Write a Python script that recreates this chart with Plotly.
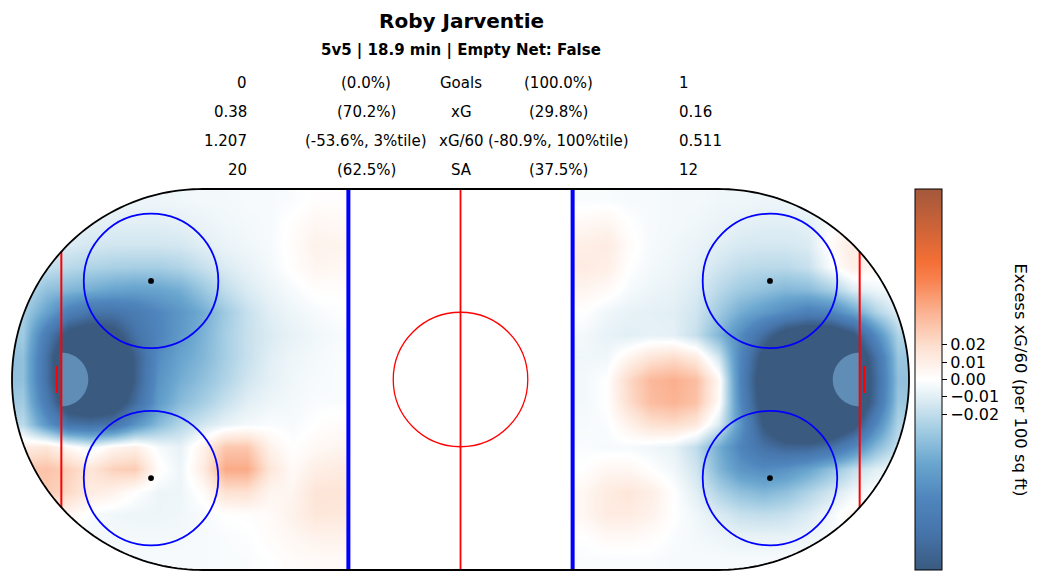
import numpy as np
import plotly.graph_objects as go

# ---------------- data ----------------
player_name = "Roby Jarventie"
subtitle = "5v5 | 18.9 min | Empty Net: False"
stat_labels = ["Goals", "xG", "xG/60", "SA"]
left_values = ["0", "0.38", "1.207", "20"]
left_shares = ["(0.0%)", "(70.2%)", "(-53.6%, 3%tile)", "(62.5%)"]
right_shares = ["(100.0%)", "(29.8%)", "(-80.9%, 100%tile)", "(37.5%)"]
right_values = ["1", "0.16", "0.511", "12"]

# cell centres (ft) of the two zone grids
grid_y = [2.5, 7.5, 12.5, 17.5, 22.5, 27.5, 32.5, 37.5, 42.5,
          47.5, 52.5, 57.5, 62.5, 67.5, 72.5, 77.5, 82.5]
left_zone_x = [2.5, 7.5, 12.5, 17.5, 22.5, 27.5, 32.5, 37.5,
               42.5, 47.5, 52.5, 57.5, 62.5, 67.5, 72.5]
right_zone_x = [127.5, 132.5, 137.5, 142.5, 147.5, 152.5, 157.5, 162.5,
                167.5, 172.5, 177.5, 182.5, 187.5, 192.5, 197.5]

# excess xG/60 (per 100 sq ft), rows top -> bottom
left_zone_z = [
    [-0.003, -0.004, -0.005, -0.006, -0.006, -0.006, -0.006, -0.005, -0.004, -0.004, -0.003, -0.003, -0.002, 0.001, 0.001],
    [-0.005, -0.006, -0.008, -0.009, -0.010, -0.010, -0.010, -0.009, -0.007, -0.005, -0.004, -0.003, 0.001, 0.005, 0.004],
    [-0.008, -0.010, -0.012, -0.014, -0.015, -0.015, -0.015, -0.014, -0.010, -0.007, -0.005, -0.003, 0.002, 0.008, 0.007],
    [-0.012, -0.018, -0.022, -0.025, -0.027, -0.028, -0.028, -0.025, -0.018, -0.012, -0.008, -0.004, 0.001, 0.006, 0.005],
    [-0.020, -0.035, -0.040, -0.045, -0.050, -0.052, -0.050, -0.045, -0.032, -0.020, -0.012, -0.007, -0.003, 0.001, 0.001],
    [-0.028, -0.050, -0.075, -0.088, -0.088, -0.080, -0.068, -0.058, -0.045, -0.030, -0.018, -0.010, -0.006, -0.003, -0.001],
    [-0.030, -0.080, -0.120, -0.130, -0.120, -0.090, -0.070, -0.056, -0.042, -0.028, -0.018, -0.012, -0.008, -0.005, -0.003],
    [-0.035, -0.090, -0.150, -0.160, -0.150, -0.105, -0.065, -0.050, -0.040, -0.028, -0.018, -0.010, -0.006, -0.004, -0.002],
    [-0.035, -0.090, -0.150, -0.160, -0.150, -0.105, -0.060, -0.045, -0.035, -0.025, -0.015, -0.009, -0.005, -0.003, -0.002],
    [-0.030, -0.080, -0.130, -0.140, -0.130, -0.095, -0.055, -0.038, -0.028, -0.018, -0.010, -0.006, -0.004, -0.002, -0.002],
    [-0.022, -0.058, -0.088, -0.092, -0.088, -0.060, -0.038, -0.024, -0.015, -0.008, -0.004, -0.002, -0.003, 0.000, 0.002],
    [0.012, 0.015, 0.004, -0.006, 0.006, 0.010, -0.003, -0.008, 0.008, 0.030, 0.030, 0.008, 0.000, 0.004, 0.006],
    [0.030, 0.032, 0.026, 0.016, 0.026, 0.028, 0.002, -0.006, 0.012, 0.042, 0.042, 0.015, 0.003, 0.010, 0.012],
    [0.025, 0.028, 0.022, 0.012, 0.008, 0.000, -0.006, -0.006, 0.002, 0.018, 0.018, 0.006, 0.006, 0.016, 0.016],
    [0.006, 0.010, 0.006, -0.002, -0.005, -0.006, -0.006, -0.005, -0.003, 0.000, 0.001, 0.003, 0.008, 0.015, 0.014],
    [-0.003, -0.003, -0.004, -0.004, -0.004, -0.004, -0.004, -0.004, -0.003, -0.002, -0.001, 0.002, 0.005, 0.008, 0.008],
    [-0.002, -0.003, -0.003, -0.003, -0.003, -0.003, -0.003, -0.003, -0.003, -0.002, -0.002, 0.000, 0.002, 0.003, 0.003],
]

right_zone_z = [
    [-0.002, -0.002, -0.003, -0.003, -0.004, -0.004, -0.005, -0.005, -0.006, -0.006, -0.005, -0.003, 0.000, 0.000, -0.002],
    [0.004, 0.006, 0.000, -0.003, -0.004, -0.005, -0.007, -0.009, -0.010, -0.010, -0.009, -0.002, 0.006, 0.004, -0.002],
    [0.010, 0.012, 0.002, -0.003, -0.005, -0.007, -0.010, -0.013, -0.014, -0.014, -0.012, 0.002, 0.012, 0.008, 0.000],
    [0.012, 0.010, 0.000, -0.004, -0.006, -0.009, -0.015, -0.020, -0.022, -0.022, -0.018, -0.002, 0.010, 0.005, -0.002],
    [0.006, 0.003, -0.003, -0.006, -0.008, -0.012, -0.022, -0.030, -0.035, -0.040, -0.038, -0.028, -0.012, -0.006, -0.003],
    [0.000, -0.005, -0.008, -0.009, -0.010, -0.015, -0.030, -0.045, -0.055, -0.065, -0.075, -0.070, -0.050, -0.025, -0.010],
    [-0.004, -0.008, -0.010, -0.008, -0.009, -0.018, -0.040, -0.065, -0.095, -0.125, -0.135, -0.135, -0.115, -0.065, -0.025],
    [-0.005, -0.005, 0.006, 0.016, 0.020, 0.012, -0.015, -0.070, -0.120, -0.155, -0.165, -0.165, -0.145, -0.090, -0.032],
    [-0.004, 0.000, 0.022, 0.036, 0.040, 0.034, 0.004, -0.072, -0.130, -0.165, -0.175, -0.175, -0.155, -0.095, -0.035],
    [-0.004, 0.000, 0.020, 0.034, 0.038, 0.032, 0.002, -0.068, -0.125, -0.160, -0.170, -0.170, -0.150, -0.092, -0.032],
    [-0.003, -0.002, 0.008, 0.018, 0.020, 0.014, -0.012, -0.060, -0.112, -0.145, -0.155, -0.145, -0.120, -0.068, -0.025],
    [-0.002, -0.003, -0.003, -0.005, -0.008, -0.020, -0.045, -0.070, -0.090, -0.100, -0.100, -0.090, -0.068, -0.038, -0.018],
    [0.000, 0.005, 0.005, 0.000, -0.005, -0.015, -0.040, -0.058, -0.065, -0.060, -0.050, -0.035, -0.020, -0.010, -0.003],
    [0.005, 0.012, 0.015, 0.010, 0.000, -0.010, -0.025, -0.035, -0.040, -0.035, -0.025, -0.015, -0.005, 0.000, 0.000],
    [0.005, 0.012, 0.012, 0.008, 0.000, -0.005, -0.012, -0.018, -0.020, -0.018, -0.012, -0.004, 0.005, 0.003, 0.000],
    [0.000, 0.004, 0.004, 0.002, -0.002, -0.004, -0.006, -0.008, -0.008, -0.008, -0.006, -0.003, 0.003, 0.000, 0.000],
    [-0.002, -0.002, -0.002, -0.002, -0.003, -0.003, -0.003, -0.003, -0.003, -0.003, -0.003, -0.002, 0.000, 0.000, 0.000],
]

cbar_tickvals = [-0.02, -0.01, 0.0, 0.01, 0.02]
cbar_ticktext = ["\u22120.02", "\u22120.01", "0.00", "0.01", "0.02"]
z_limit = 0.11
cbar_title = "Excess xG/60 (per 100 sq ft)"

# ---------------- styling / geometry ----------------
W, H = 1041, 582
ML, MR, MT, MB = 8, 128, 185, 8
PPF_X = 4.485
PPF_Y = 4.4826
x_range = [-(12 - ML) / PPF_X, 200 + (W - MR - 909) / PPF_X]
y_range = [85 + (H - MB - 570) / PPF_Y, -(189 - MT) / PPF_Y]

plot_w = W - ML - MR
plot_h = H - MT - MB


def paper_x(px):
    return (px - ML) / plot_w


def paper_y(py):
    return (H - MB - py) / plot_h


colorscale = [
    [0.00, "#3a5a80"],
    [0.10, "#4675ab"],
    [0.19, "#4f86bd"],
    [0.28, "#6aa6cf"],
    [0.37, "#a4cde3"],
    [0.455, "#e2eff5"],
    [0.50, "#ffffff"],
    [0.587, "#fde0d0"],
    [0.675, "#fbb393"],
    [0.76, "#f88250"],
    [0.81, "#f46f35"],
    [0.90, "#cc6338"],
    [1.00, "#a3583c"],
]

fig = go.Figure()
fig.add_trace(go.Heatmap(x=left_zone_x, y=grid_y, z=left_zone_z, coloraxis="coloraxis",
                         zsmooth="best", hoverinfo="skip"))
fig.add_trace(go.Heatmap(x=right_zone_x, y=grid_y, z=right_zone_z, coloraxis="coloraxis",
                         zsmooth="best", hoverinfo="skip"))

R = 42.5
RINK_L, RINK_W = 200.0, 85.0


def pts_to_path(xs, ys, close=True):
    s = "M %.3f,%.3f " % (xs[0], ys[0])
    s += " ".join("L %.3f,%.3f" % (a, b) for a, b in zip(xs[1:], ys[1:]))
    if close:
        s += " Z"
    return s


th = np.linspace(0, np.pi, 120)
lax = R - R * np.sin(th)
lay = R - R * np.cos(th)
rax = RINK_L - lax
ray = lay

shapes = []
mx = np.concatenate([[-4, R], lax, [R, -4]])
my = np.concatenate([[-4, -4], lay, [RINK_W + 4, RINK_W + 4]])
shapes.append(dict(type="path", path=pts_to_path(mx, my), fillcolor="white",
                   line=dict(width=0), layer="above"))
shapes.append(dict(type="path", path=pts_to_path(RINK_L - mx, my), fillcolor="white",
                   line=dict(width=0), layer="above"))

ct = np.linspace(-np.pi / 2, np.pi / 2, 60)
for gx, sgn in [(11.0, 1), (189.0, -1)]:
    cx = gx + sgn * 6 * np.cos(ct)
    cy = 42.5 + 6 * np.sin(ct)
    shapes.append(dict(type="path", path=pts_to_path(cx, cy), fillcolor="#5f8db5",
                       line=dict(width=0), layer="above"))

for bxl in [75.0, 125.0]:
    shapes.append(dict(type="line", x0=bxl, x1=bxl, y0=0, y1=RINK_W,
                       line=dict(color="blue", width=4), layer="above"))
shapes.append(dict(type="line", x0=100, x1=100, y0=0, y1=RINK_W,
                   line=dict(color="red", width=1.8), layer="above"))
shapes.append(dict(type="circle", x0=85, x1=115, y0=27.5, y1=57.5,
                   line=dict(color="red", width=1.3), layer="above"))
for fx in [31.0, 169.0]:
    for fy in [20.5, 64.5]:
        shapes.append(dict(type="circle", x0=fx - 15, x1=fx + 15, y0=fy - 15, y1=fy + 15,
                           line=dict(color="blue", width=1.8), layer="above"))
        shapes.append(dict(type="circle", x0=fx - 0.65, x1=fx + 0.65, y0=fy - 0.65, y1=fy + 0.65,
                           fillcolor="black", line=dict(color="black", width=0), layer="above"))
half = np.sqrt(R ** 2 - (R - 11) ** 2)
for gx, nx in [(11.0, 10.0), (189.0, 190.0)]:
    shapes.append(dict(type="line", x0=gx, x1=gx, y0=42.5 - half, y1=42.5 + half,
                       line=dict(color="red", width=2), layer="above"))
    shapes.append(dict(type="line", x0=nx, x1=nx, y0=39.5, y1=45.5,
                       line=dict(color="red", width=2), layer="above"))

bx = np.concatenate([[R, RINK_L - R], rax, [R], lax[::-1]])
by = np.concatenate([[0, 0], ray, [RINK_W], lay[::-1]])
shapes.append(dict(type="path", path=pts_to_path(bx, by), line=dict(color="black", width=1.8),
                   fillcolor="rgba(0,0,0,0)", layer="above"))

annotations = []
FONT = "DejaVu Sans"
annotations.append(dict(text="<b>%s</b>" % player_name, x=paper_x(461), y=paper_y(21),
                        xref="paper", yref="paper", showarrow=False, xanchor="center",
                        yanchor="middle", font=dict(family=FONT, size=20, color="black")))
annotations.append(dict(text="<b>%s</b>" % subtitle, x=paper_x(461), y=paper_y(50),
                        xref="paper", yref="paper", showarrow=False, xanchor="center",
                        yanchor="middle", font=dict(family=FONT, size=15, color="black")))
row_y = [83, 112, 141, 170]
for i in range(len(stat_labels)):
    py = row_y[i]
    for txt, px, anc in [(left_values[i], 249, "right"), (left_shares[i], 366, "center"),
                         (stat_labels[i], 461, "center"), (right_shares[i], 558, "center"),
                         (right_values[i], 677, "left")]:
        annotations.append(dict(text=txt, x=paper_x(px), y=paper_y(py), xref="paper", yref="paper",
                                showarrow=False, xanchor=anc, yanchor="middle",
                                font=dict(family=FONT, size=15, color="black")))
annotations.append(dict(text=cbar_title, x=paper_x(1020), y=paper_y(379.5), xref="paper", yref="paper",
                        showarrow=False, textangle=90, xanchor="center", yanchor="middle",
                        font=dict(family=FONT, size=16.4, color="black")))

fig.update_layout(
    width=W, height=H,
    margin=dict(l=ML, r=MR, t=MT, b=MB, pad=0),
    paper_bgcolor="white", plot_bgcolor="white",
    xaxis=dict(range=x_range, visible=False, showgrid=False, zeroline=False, fixedrange=True),
    yaxis=dict(range=y_range, visible=False, showgrid=False, zeroline=False, fixedrange=True),
    coloraxis=dict(
        colorscale=colorscale, cmin=-z_limit, cmax=z_limit,
        colorbar=dict(
            x=paper_x(915), xanchor="left", xpad=0, y=0.5, yanchor="middle", ypad=0,
            len=381, lenmode="pixels", thickness=27, thicknessmode="pixels",
            outlinewidth=1, outlinecolor="black",
            tickvals=cbar_tickvals, ticktext=cbar_ticktext, ticks="outside",
            ticklen=5, tickwidth=1, tickcolor="black",
            tickfont=dict(family=FONT, size=16, color="black"),
        ),
    ),
    shapes=shapes, annotations=annotations, showlegend=False,
)

fig.write_html("out.html")
